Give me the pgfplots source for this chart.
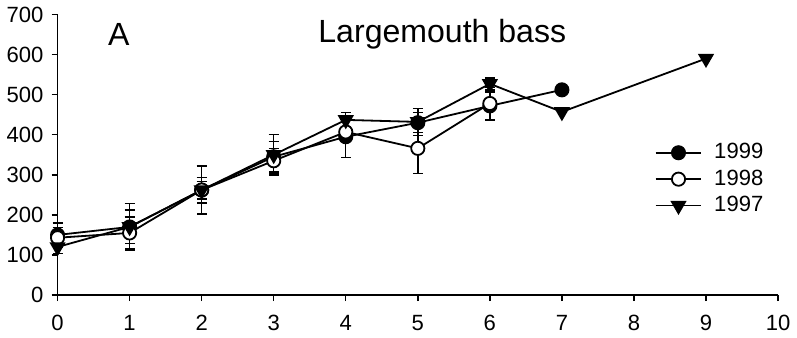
\documentclass[border=0pt]{standalone}
\usepackage{fontspec}
\setmainfont{Liberation Sans}
\usepackage{pgfplots}
\pgfplotsset{compat=1.18}
\begin{document}
\begin{tikzpicture}
\begin{axis}[
  scale only axis,
  width=359.5pt, height=140pt,
  xmin=0, xmax=10, ymin=0, ymax=700,
  axis x line=bottom, axis y line=left,
  axis line style={-, line width=0.75pt},
  xtick={0,1,...,10}, ytick={0,100,...,700},
  tick align=outside, major tick length=3pt,
  tick style={line width=0.7pt, black},
  /pgf/number format/assume math mode=true,
  ticklabel style={font=\fontsize{11}{13}\selectfont},
  xticklabel style={yshift=-3.5pt},
  yticklabel style={xshift=-0.5pt},
  clip=false,
  legend style={draw=none, fill=none, at={(0.82,0.57)}, anchor=north west,
    font=\fontsize{11}{13}\selectfont, row sep=0pt},
  legend cell align=left,
  legend image code/.code={\draw[mark repeat=2,mark phase=2] plot coordinates {(-0.3cm,0cm) (0.1cm,0cm) (0.5cm,0cm)};},
  every axis plot/.append style={line width=0.9pt, black},
  error bars/error bar style={line width=0.7pt},
  error bars/error mark options={rotate=90, mark size=2.5pt, line width=0.7pt},
]
\addplot[mark=*, mark size=3.3pt, mark options={fill=black},
  error bars/.cd, y dir=both, y explicit] coordinates {
  (0,150) +- (0,30)
  (1,170) +- (0,42)
  (2,262) +- (0,32)
  (3,345) +- (0,38)
  (4,395) +- (0,52)
  (5,430) +- (0,25)
  (6,472) +- (0,35)
  (7,512) +- (0,0)
};
\addlegendentry{\hspace{4pt}1999}
\addplot[mark=*, mark size=3.3pt, mark options={fill=white},
  error bars/.cd, y dir=both, y explicit] coordinates {
  (0,143) +- (0,25)
  (1,155) +- (0,40)
  (2,262) +- (0,22)
  (3,335) +- (0,30)
  (4,407) +- (0,10)
  (5,366) +- (0,63)
  (6,478) +- (0,40)
};
\addlegendentry{\hspace{4pt}1998}
\addplot[mark=triangle*, mark size=3.8pt, mark options={fill=black, rotate=180},
  error bars/.cd, y dir=both, y explicit] coordinates {
  (0,120) +- (0,17)
  (1,170) +- (0,58)
  (2,262) +- (0,60)
  (3,350) +- (0,50)
  (4,437) +- (0,18)
  (5,432) +- (0,34)
  (6,527) +- (0,15)
  (7,457) +- (0,0)
  (9,590) +- (0,0)
};
\addlegendentry{\hspace{4pt}1997}
\node[font=\fontsize{16}{19}\selectfont] at (axis cs:0.85,650) {A};
\node[font=\fontsize{16}{19}\selectfont] at (axis cs:5.34,650) {Largemouth bass};
\end{axis}
\end{tikzpicture}
\end{document}
